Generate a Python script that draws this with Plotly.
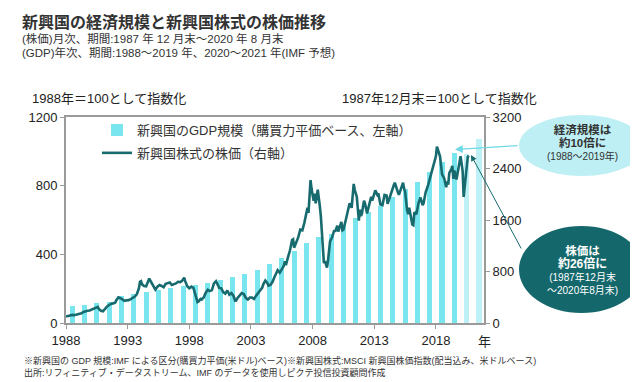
import plotly.graph_objects as go

# ---------------- data ----------------
gdp_years = list(range(1988, 2022))
gdp_values = [100, 105, 114, 124, 158, 168, 178, 190, 204, 216,
              224, 234, 253, 268, 284, 308, 343, 378, 422, 468,
              502, 520, 566, 611, 648, 680, 735, 781, 824, 879,
              940, 992, 985, 1072]
forecast_from = 2020  # IMF forecast years

stock_dates = [
    "1987-12", "1988-02", "1988-04", "1988-06", "1988-08", "1988-10", "1988-12",
    "1989-02", "1989-03", "1989-05", "1989-07", "1989-09", "1989-11",
    "1990-01", "1990-03", "1990-05", "1990-07", "1990-08", "1990-10", "1990-12",
    "1991-02", "1991-04", "1991-06", "1991-08", "1991-10", "1991-12",
    "1992-01", "1992-03", "1992-05", "1992-07", "1992-09", "1992-11",
    "1993-01", "1993-03", "1993-05", "1993-07", "1993-09", "1993-11", "1993-12",
    "1994-01", "1994-02", "1994-04", "1994-06", "1994-08", "1994-09", "1994-10", "1994-12",
    "1995-01", "1995-03", "1995-05", "1995-07", "1995-09", "1995-11",
    "1996-01", "1996-03", "1996-05", "1996-07", "1996-09", "1996-11",
    "1997-01", "1997-03", "1997-05", "1997-07", "1997-08", "1997-10", "1997-12",
    "1998-02", "1998-04", "1998-06", "1998-08", "1998-09", "1998-11", "1998-12",
    "1999-02", "1999-04", "1999-06", "1999-08", "1999-10", "1999-12",
    "2000-02", "2000-04", "2000-05", "2000-07", "2000-09", "2000-11",
    "2001-01", "2001-03", "2001-05", "2001-07", "2001-09", "2001-11",
    "2002-01", "2002-03", "2002-05", "2002-07", "2002-09", "2002-11",
    "2003-01", "2003-03", "2003-05", "2003-07", "2003-09", "2003-11", "2003-12",
    "2004-02", "2004-04", "2004-05", "2004-07", "2004-09", "2004-11", "2004-12",
    "2005-02", "2005-04", "2005-06", "2005-08", "2005-09", "2005-10", "2005-12",
    "2006-02", "2006-04", "2006-05", "2006-06", "2006-08", "2006-10", "2006-12",
    "2007-02", "2007-04", "2007-06", "2007-07", "2007-08", "2007-09", "2007-10", "2007-11",
    "2008-01", "2008-02", "2008-03", "2008-05", "2008-06", "2008-07", "2008-08",
    "2008-09", "2008-10", "2008-11", "2008-12",
    "2009-02", "2009-03", "2009-04", "2009-05", "2009-07", "2009-09", "2009-10", "2009-12",
    "2010-01", "2010-03", "2010-04", "2010-05", "2010-06", "2010-08", "2010-10", "2010-12",
    "2011-01", "2011-02", "2011-04", "2011-05", "2011-07", "2011-08", "2011-09",
    "2011-10", "2011-11", "2011-12",
    "2012-02", "2012-03", "2012-05", "2012-06", "2012-08", "2012-09", "2012-10", "2012-12",
    "2013-01", "2013-03", "2013-04", "2013-06", "2013-08", "2013-10", "2013-12",
    "2014-01", "2014-03", "2014-05", "2014-07", "2014-08", "2014-10", "2014-11", "2014-12",
    "2015-01", "2015-02", "2015-04", "2015-05", "2015-06", "2015-08", "2015-09",
    "2015-10", "2015-12",
    "2016-01", "2016-02", "2016-03", "2016-05", "2016-07", "2016-09", "2016-11", "2016-12",
    "2017-02", "2017-04", "2017-06", "2017-08", "2017-10", "2017-12",
    "2018-01", "2018-03", "2018-04", "2018-06", "2018-08", "2018-10", "2018-11", "2018-12",
    "2019-01", "2019-03", "2019-04", "2019-05", "2019-06", "2019-08", "2019-09",
    "2019-10", "2019-12",
    "2020-01", "2020-02", "2020-03", "2020-04", "2020-05", "2020-06", "2020-07", "2020-08",
]
stock_values = [
    100, 112, 118, 126, 122, 130, 134,
    138, 150, 172, 185, 190, 195,
    208, 222, 238, 250, 218, 190, 182,
    225, 258, 280, 300, 305, 318,
    355, 398, 385, 360, 345, 352,
    355, 372, 392, 410, 450, 540, 640,
    650, 600, 575, 570, 640, 690, 660, 600,
    560, 520, 565, 590, 575, 555,
    610, 620, 630, 590, 600, 615,
    640, 635, 655, 705, 650, 570, 540,
    565, 545, 450, 325, 335, 375, 365,
    395, 470, 515, 495, 510, 615,
    650, 585, 545, 540, 480, 455,
    505, 440, 465, 420, 335, 390,
    430, 465, 450, 390, 365, 395,
    395, 375, 425, 470, 520, 550, 600,
    660, 620, 580, 590, 640, 720, 760,
    820, 780, 830, 890, 960, 900, 1020,
    1130, 1290, 1300, 1170, 1240, 1330, 1450,
    1440, 1560, 1700, 1790, 1710, 1900, 2220, 2080,
    1900, 2010, 1860, 2070, 1880, 1820, 1660,
    1430, 1040, 930, 960,
    860, 970, 1120, 1270, 1330, 1440, 1420, 1510,
    1420, 1550, 1570, 1440, 1450, 1580, 1740, 1860,
    1830, 1790, 2160, 2070, 1960, 1790, 1590,
    1760, 1660, 1700,
    1900, 1860, 1700, 1770, 1880, 1960, 1900, 2020,
    2060, 1990, 2010, 1840, 1830, 1990, 1980,
    1850, 1960, 2060, 2140, 2180, 2050, 2030, 1990,
    2040, 2090, 2180, 2090, 2040, 1750, 1690,
    1790, 1640,
    1530, 1520, 1720, 1690, 1860, 1950, 1830, 1860,
    2030, 2120, 2230, 2370, 2480, 2590,
    2740, 2640, 2590, 2310, 2250, 2110, 2200, 2150,
    2330, 2390, 2440, 2240, 2370, 2230, 2320,
    2410, 2590,
    2480, 2360, 1960, 2140, 2220, 2390, 2580, 2600,
]

x_ticks = [1988, 1993, 1998, 2003, 2008, 2013, 2018]
left_ticks = [0, 400, 800, 1200]
right_ticks = [0, 800, 1600, 2400, 3200]

gdp_name = "新興国のGDP規模（購買力平価ベース、左軸）"
stock_name = "新興国株式の株価（右軸）"

# ---------------- layout helpers ----------------
W, H = 638, 382
ML, MR, MT, MB = 58, 162, 109, 67


def px(x):
    return (x - ML) / (W - ML - MR)


def py(y):
    return (H - MB - y) / (H - MT - MB)


FONT = "Liberation Sans, Noto Sans CJK JP, sans-serif"
BAR = "#79E5EE"
BAR_FC = "#BDF1F5"
LINE = "#176B6F"
AXIS = "#9a9a9a"
TXT = "#222222"

# month-end -> fractional year position
stock_x = [int(d[:4]) + int(d[5:]) / 12 for d in stock_dates]
bar_x = [y + 0.5 for y in gdp_years]
bar_colors = [BAR_FC if y >= forecast_from else BAR for y in gdp_years]

fig = go.Figure()
fig.add_trace(go.Bar(
    x=bar_x, y=gdp_values, width=0.42, name=gdp_name,
    marker=dict(color=bar_colors, line=dict(width=0)),
    yaxis="y", legendgroup="gdp",
))
fig.add_trace(go.Scatter(
    x=stock_x, y=stock_values, mode="lines", name=stock_name,
    line=dict(color=LINE, width=2.6), yaxis="y2", legendgroup="stock",
))

annotations = []


def txt(x, y, text, size, color=TXT, anchor="left", bold=False):
    annotations.append(dict(
        xref="paper", yref="paper", x=px(x), y=py(y),
        text=f"<b>{text}</b>" if bold else text,
        showarrow=False, xanchor=anchor, yanchor="middle",
        font=dict(size=size, color=color, family=FONT),
    ))


txt(12, 14, "新興国の経済規模と新興国株式の株価推移", 16, "#333333", bold=True)
txt(12, 31, "(株価)月次、期間:1987 年 12 月末～2020 年 8 月末", 11.5, "#333333")
txt(12, 45, "(GDP)年次、期間:1988～2019 年、2020～2021 年(IMF 予想)", 11.5, "#333333")
txt(22, 90, "1988年＝100として指数化", 13)
txt(531, 90, "1987年12月末＝100として指数化", 13, anchor="right")
txt(476, 333, "年", 13, anchor="center")
txt(14, 352, "※新興国の GDP 規模:IMF による区分(購買力平価(米ドル)ベース)※新興国株式:MSCI 新興国株価指数(配当込み、米ドルベース)", 9, "#333333")
txt(14, 364, "出所:リフィニティブ・データストリーム、IMF のデータを使用しピクテ投信投資顧問作成", 9, "#333333")

# callout ellipse texts (one block each)
txt(574, 134,
    "<b><span style='font-size:11.5px'>経済規模は</span></b><br>"
    "<b><span style='font-size:11.5px'>約10倍に</span></b><br>"
    "(1988～2019年)",
    10, "#333333", anchor="center")
txt(574, 262,
    "<b><span style='font-size:11.5px'>株価は</span></b><br>"
    "<b><span style='font-size:12px'>約26倍に</span></b><br>"
    "(1987年12月末<br>～2020年8月末)",
    10, "#ffffff", anchor="center")

# arrows
annotations.append(dict(
    xref="paper", yref="paper", x=px(447), y=py(141.5),
    ax=64, ay=-4, axref="pixel", ayref="pixel",
    showarrow=True, arrowhead=2, arrowsize=1.2, arrowwidth=1.3,
    arrowcolor="#6FD9E6", text="",
))
annotations.append(dict(
    xref="paper", yref="paper", x=px(463), y=py(147),
    ax=51, ay=95, axref="pixel", ayref="pixel",
    showarrow=True, arrowhead=2, arrowsize=1.2, arrowwidth=1,
    arrowcolor=LINE, text="",
))

shapes = [
    dict(type="circle", xref="paper", yref="paper",
         x0=px(511), x1=px(637), y0=py(107), y1=py(168),
         fillcolor="#BDEFF4", line=dict(width=0), layer="below"),
    dict(type="circle", xref="paper", yref="paper",
         x0=px(511), x1=px(636), y0=py(218), y1=py(305),
         fillcolor="#14676B", line=dict(width=0), layer="below"),
]

axis_common = dict(
    showline=True, linecolor=AXIS, linewidth=2, showgrid=False, zeroline=False,
    ticks="outside", ticklen=4, tickcolor=AXIS, tickwidth=1,
    tickfont=dict(size=13, color=TXT, family=FONT),
)

fig.update_layout(
    width=W, height=H,
    margin=dict(l=ML, r=MR, t=MT, b=MB),
    paper_bgcolor="white", plot_bgcolor="white",
    font=dict(family=FONT, color=TXT),
    xaxis=dict(range=[1988, 2021.9], tickvals=x_ticks, mirror=True, **axis_common),
    yaxis=dict(range=[0, 1200], tickvals=left_ticks, mirror=True, **axis_common),
    yaxis2=dict(range=[0, 3200], tickvals=right_ticks, overlaying="y", side="right",
                **axis_common),
    bargap=0,
    showlegend=True,
    legend=dict(x=px(89), y=py(107), xanchor="left", yanchor="top",
                bgcolor="rgba(0,0,0,0)", font=dict(size=13, color="#333333", family=FONT),
                itemwidth=30, traceorder="grouped", tracegroupgap=3),
    annotations=annotations,
    shapes=shapes,
)

fig.write_html("out.html")
